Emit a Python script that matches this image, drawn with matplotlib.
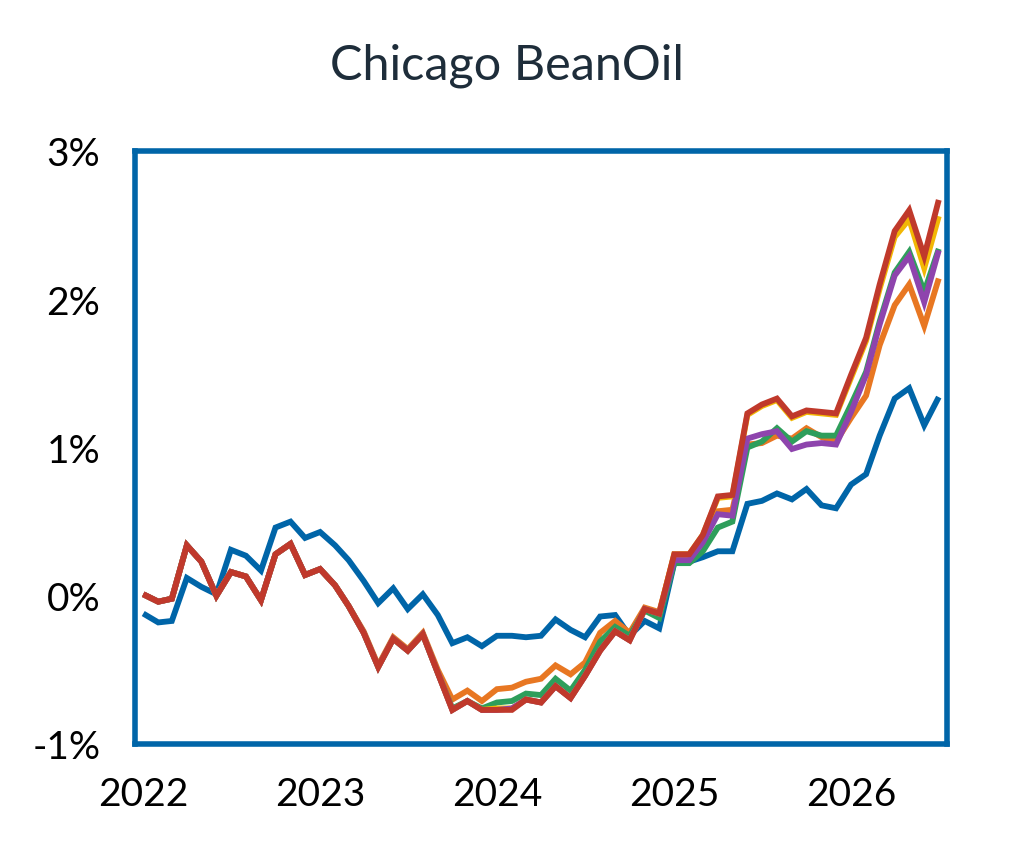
import matplotlib
matplotlib.use("Agg")
import matplotlib.pyplot as plt
import pandas as pd

title = "Chicago BeanOil"
dates = pd.date_range("2022-01-01", periods=55, freq="MS")
year_ticks = ["2022", "2023", "2024", "2025", "2026"]
y_ticks = [-1, 0, 1, 2, 3]
y_labels = ["-1%", "0%", "1%", "2%", "3%"]

blue = [-0.12, -0.18, -0.17, 0.12, 0.06, 0.01, 0.31, 0.27, 0.17, 0.46, 0.50, 0.39,
        0.43, 0.34, 0.24, 0.10, -0.05, 0.05, -0.09, 0.01, -0.13, -0.32, -0.28, -0.34,
        -0.27, -0.27, -0.28, -0.27, -0.16, -0.23, -0.28, -0.14, -0.13, -0.27, -0.17, -0.22,
        0.22, 0.23, 0.26, 0.30, 0.30, 0.62, 0.64, 0.69, 0.65, 0.72, 0.61, 0.59,
        0.75, 0.82, 1.08, 1.33, 1.40, 1.15, 1.34]
orange = [0.01, -0.04, -0.02, 0.34, 0.23, 0.00, 0.16, 0.13, -0.03, 0.28, 0.35, 0.14,
          0.18, 0.07, -0.07, -0.24, -0.47, -0.28, -0.36, -0.25, -0.50, -0.70, -0.64, -0.71,
          -0.63, -0.62, -0.58, -0.56, -0.47, -0.53, -0.45, -0.25, -0.17, -0.25, -0.08, -0.11,
          0.27, 0.27, 0.40, 0.57, 0.58, 1.02, 1.03, 1.08, 1.06, 1.13, 1.07, 1.04,
          1.20, 1.35, 1.69, 1.96, 2.10, 1.82, 2.14]
green = [0.01, -0.04, -0.02, 0.34, 0.23, 0.00, 0.16, 0.13, -0.03, 0.28, 0.35, 0.14,
         0.18, 0.07, -0.07, -0.25, -0.48, -0.29, -0.37, -0.26, -0.52, -0.76, -0.71, -0.76,
         -0.72, -0.71, -0.66, -0.67, -0.56, -0.64, -0.50, -0.31, -0.21, -0.27, -0.10, -0.15,
         0.22, 0.22, 0.30, 0.46, 0.50, 1.00, 1.04, 1.13, 1.04, 1.11, 1.08, 1.08,
         1.29, 1.51, 1.85, 2.18, 2.32, 2.05, 2.34]
yellow = [0.01, -0.04, -0.02, 0.34, 0.23, 0.00, 0.16, 0.13, -0.03, 0.28, 0.35, 0.14,
          0.18, 0.07, -0.07, -0.25, -0.48, -0.29, -0.37, -0.26, -0.52, -0.77, -0.71, -0.77,
          -0.76, -0.76, -0.70, -0.72, -0.61, -0.69, -0.54, -0.37, -0.24, -0.30, -0.09, -0.12,
          0.28, 0.28, 0.41, 0.66, 0.67, 1.22, 1.28, 1.32, 1.20, 1.24, 1.23, 1.22,
          1.47, 1.72, 2.07, 2.42, 2.54, 2.21, 2.56]
purple = [0.01, -0.04, -0.02, 0.34, 0.23, 0.00, 0.16, 0.13, -0.03, 0.28, 0.35, 0.14,
          0.18, 0.07, -0.07, -0.25, -0.48, -0.29, -0.37, -0.26, -0.52, -0.77, -0.71, -0.77,
          -0.77, -0.76, -0.70, -0.72, -0.61, -0.69, -0.54, -0.37, -0.24, -0.30, -0.09, -0.12,
          0.24, 0.24, 0.36, 0.55, 0.54, 1.06, 1.09, 1.11, 0.99, 1.02, 1.03, 1.02,
          1.24, 1.49, 1.83, 2.16, 2.29, 1.98, 2.33]
red = [0.01, -0.04, -0.02, 0.34, 0.23, 0.00, 0.16, 0.13, -0.03, 0.28, 0.35, 0.14,
       0.18, 0.07, -0.07, -0.25, -0.48, -0.29, -0.37, -0.26, -0.52, -0.77, -0.71, -0.77,
       -0.77, -0.77, -0.70, -0.72, -0.61, -0.69, -0.54, -0.37, -0.24, -0.30, -0.09, -0.12,
       0.28, 0.28, 0.41, 0.67, 0.68, 1.23, 1.29, 1.33, 1.21, 1.25, 1.24, 1.23,
       1.49, 1.74, 2.10, 2.46, 2.60, 2.29, 2.67]

series = [blue, orange, green, yellow, purple, red]
colors = ["#0065A8", "#E87722", "#2E9E5B", "#F2B705", "#8E44AD", "#C0392B"]

plt.rcParams["font.family"] = ["Lato", "DejaVu Sans"]

fig = plt.figure(figsize=(10.13, 8.45), dpi=100)
ax = fig.add_axes([135 / 1013, (845 - 745) / 845, (947 - 135) / 1013, (745 - 152) / 845])

for vals, c in zip(series, colors):
    ax.plot(dates, vals, color=c, lw=4.2, solid_joinstyle="miter", solid_capstyle="butt")

ax.set_ylim(-1, 3)
ax.set_xlim(dates[0] - pd.Timedelta(days=17), dates[-1] + pd.Timedelta(days=17))
ax.set_yticks(y_ticks)
ax.set_yticklabels(y_labels)
ax.set_xticks([pd.Timestamp(y + "-01-01") for y in year_ticks])
ax.set_xticklabels(year_ticks)
ax.tick_params(axis="both", length=0, labelsize=28, colors="black")
ax.tick_params(axis="y", pad=25)
ax.tick_params(axis="x", pad=23)

for s in ax.spines.values():
    s.set_color("#0065A8")
    s.set_linewidth(4.0)

fig.text(0.5, 1 - 66 / 845, title, ha="center", va="center", fontsize=35, color="#1E2D3A")

fig.savefig("out.png", dpi=100)
